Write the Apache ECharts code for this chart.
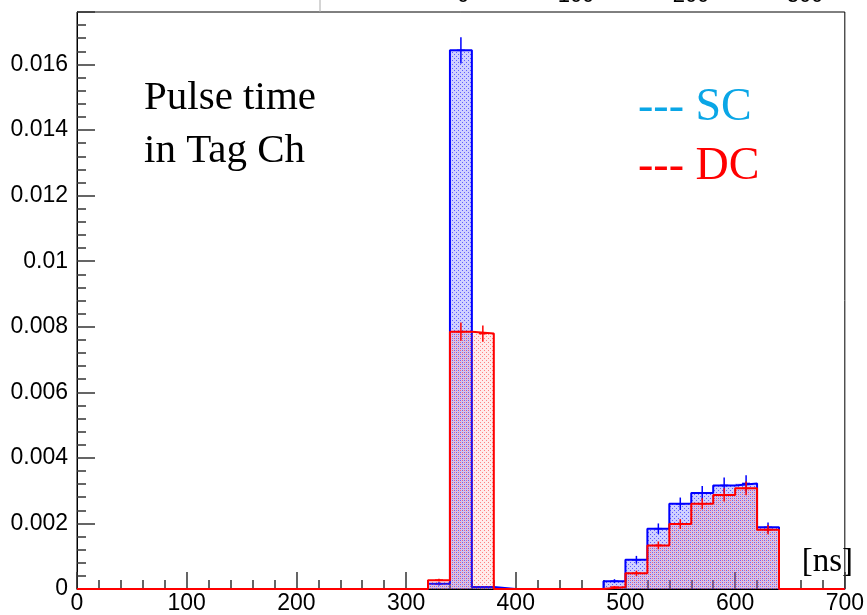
<!DOCTYPE html>
<html>
<head>
<meta charset="utf-8">
<script src="https://cdn.jsdelivr.net/npm/echarts@6/dist/echarts.min.js"></script>
<style>
html,body{margin:0;padding:0;background:#fff;}
#chart{width:867px;height:615px;}
</style>
</head>
<body>
<div id="chart"></div>
<script>
// bin lower edges [ns], bin width 20 ns
const binLow = [0,20,40,60,80,100,120,140,160,180,200,220,240,260,280,300,320,340,360,380,400,420,440,460,480,500,520,540,560,580,600,620,640,660,680];
const binWidth = 20;
// SC histogram (blue)
const scValues = [0,0,0,0,0,0,0,0,0,0,0,0,0,0,0,0,0.00016,0.01643,0.00006,0,0,0,0,0,0.00024,0.00089,0.00184,0.0026,0.00293,0.00316,0.00322,0.00188,0,0,0];
const scErrors = [0,0,0,0,0,0,0,0,0,0,0,0,0,0,0,0,0.00005,0.0004,0.00003,0,0,0,0,0,0.00006,0.00012,0.00016,0.00019,0.00021,0.00024,0.00025,0.00015,0,0,0];
// DC histogram (red)
const dcValues = [0,0,0,0,0,0,0,0,0,0,0,0,0,0,0,0,0.00027,0.00785,0.00779,0,0,0,0,0,0.00006,0.00048,0.00133,0.00198,0.0026,0.00287,0.00307,0.00181,0,0,0];
const dcErrors = [0,0,0,0,0,0,0,0,0,0,0,0,0,0,0,0,0.00004,0.00028,0.00025,0,0,0,0,0,0.00003,0.00008,0.00012,0.00015,0.00017,0.0002,0.00021,0.00014,0,0,0];
const xTicks = {min:0, max:700, interval:100};
const yTicks = {min:0, max:0.0176, interval:0.002};

function makePattern(bg, dot, size, dots){
  const c = document.createElement('canvas');
  c.width = size; c.height = size;
  const ctx = c.getContext('2d');
  ctx.fillStyle = bg; ctx.fillRect(0,0,size,size);
  ctx.fillStyle = dot;
  dots.forEach(d => ctx.fillRect(d[0], d[1], 1, 1));
  return {image: c, repeat: 'repeat'};
}
const bluePattern = makePattern('rgba(110,110,255,0.32)', 'rgba(0,0,255,0.55)', 4, [[0,0],[2,2]]);
const redPattern = makePattern('rgba(255,110,110,0.14)', 'rgba(255,0,0,0.45)', 4, [[2,0],[0,2]]);

function histData(vals){
  return binLow.map((x,i) => [x, x + binWidth, vals[i]]);
}
function stepData(vals){
  const d = binLow.map((x,i) => [x, vals[i]]);
  d.push([binLow[binLow.length-1] + binWidth, vals[vals.length-1]]);
  return d;
}
function errData(vals, errs){
  return binLow.map((x,i) => [x + binWidth/2, vals[i], errs[i]]);
}
function fillRender(pattern){
  return function(params, api){
    const v = api.value(2);
    if (!v) return null;
    const p0 = api.coord([api.value(0), v]);
    const p1 = api.coord([api.value(1), 0]);
    return {type:'rect', shape:{x:p0[0], y:p0[1], width:p1[0]-p0[0], height:p1[1]-p0[1]}, style:{fill: pattern}};
  };
}
function errRender(color){
  return function(params, api){
    const v = api.value(1), e = api.value(2);
    if (!v) return null;
    const x = api.value(0);
    const top = api.coord([x, v + e]);
    const bot = api.coord([x, Math.max(0, v - e)]);
    const mid = api.coord([x, v]);
    return {type:'group', children:[
      {type:'line', shape:{x1:top[0], y1:top[1], x2:bot[0], y2:bot[1]}, style:{stroke:color, lineWidth:1.5}},
      {type:'line', shape:{x1:mid[0]-4, y1:mid[1], x2:mid[0]+4, y2:mid[1]}, style:{stroke:color, lineWidth:1.5}}
    ]};
  };
}

const chart = echarts.init(document.getElementById('chart'), null, {renderer:'canvas'});
chart.setOption({
  animation:false,
  backgroundColor:'#fff',
  grid:{left:77, right:21, top:12, bottom:25, show:true, borderColor:'#000', borderWidth:1, backgroundColor:'transparent'},
  xAxis:{
    type:'value', min:xTicks.min, max:xTicks.max, interval:xTicks.interval,
    axisLine:{show:true, lineStyle:{color:'#000', width:1}},
    axisTick:{show:true, inside:true, length:17, lineStyle:{color:'#333', width:1.5}},
    minorTick:{show:true, splitNumber:5, length:9, lineStyle:{color:'#333', width:1.5}},
    splitLine:{show:false},
    axisLabel:{color:'#000', fontSize:23, fontFamily:'Liberation Sans, Arial, sans-serif', margin:3}
  },
  yAxis:{
    type:'value', min:yTicks.min, max:yTicks.max, interval:yTicks.interval,
    axisLine:{show:true, lineStyle:{color:'#000', width:1}},
    axisTick:{show:true, inside:true, length:18, lineStyle:{color:'#333', width:1.5}},
    minorTick:{show:true, splitNumber:5, length:9, lineStyle:{color:'#333', width:1.5}},
    splitLine:{show:false},
    axisLabel:{color:'#000', fontSize:23, fontFamily:'Liberation Sans, Arial, sans-serif', margin:9, showMaxLabel:false,
      formatter:function(v){
        const k = v / yTicks.interval;
        if (Math.abs(k - Math.round(k)) > 1e-6) return '';
        return String(+v.toFixed(4));
      }}
  },
  series:[
    {type:'custom', name:'SC fill', renderItem:fillRender(bluePattern), data:histData(scValues), z:1, encode:{x:[0,1], y:2}},
    {type:'line', name:'SC', step:'end', data:stepData(scValues), showSymbol:false, lineStyle:{color:'#0000ff', width:2}, z:2},
    {type:'custom', name:'SC err', renderItem:errRender('#0000ff'), data:errData(scValues, scErrors), z:3, encode:{x:0, y:1}},
    {type:'custom', name:'DC fill', renderItem:fillRender(redPattern), data:histData(dcValues), z:4, encode:{x:[0,1], y:2}},
    {type:'line', name:'DC', step:'end', data:stepData(dcValues), showSymbol:false, lineStyle:{color:'#ff0000', width:2}, z:5},
    {type:'custom', name:'DC err', renderItem:errRender('#ff0000'), data:errData(dcValues, dcErrors), z:6, encode:{x:0, y:1}}
  ],
  graphic:[
    {type:'text', left:144, top:78, style:{text:'Pulse time', font:'41px "Liberation Serif", "Times New Roman", serif', fill:'#000'}},
    {type:'text', left:144, top:131, style:{text:'in Tag Ch', font:'41px "Liberation Serif", "Times New Roman", serif', fill:'#000'}},
    {type:'text', left:638, top:85, style:{text:'--- SC', font:'46px "Liberation Serif", "Times New Roman", serif', fill:'#0aa6e6'}},
    {type:'text', left:638, top:144, style:{text:'--- DC', font:'46px "Liberation Serif", "Times New Roman", serif', fill:'#ff0000'}},
    {type:'text', right:14, top:546, style:{text:'[ns]', font:'33px "Liberation Serif", "Times New Roman", serif', fill:'#000'}},
    {type:'text', x:463, y:7, style:{text:'0', font:'22px "Liberation Sans", Arial, sans-serif', fill:'#000', align:'center', verticalAlign:'bottom'}},
    {type:'text', x:576, y:7, style:{text:'100', font:'22px "Liberation Sans", Arial, sans-serif', fill:'#000', align:'center', verticalAlign:'bottom'}},
    {type:'text', x:691, y:7, style:{text:'200', font:'22px "Liberation Sans", Arial, sans-serif', fill:'#000', align:'center', verticalAlign:'bottom'}},
    {type:'text', x:805, y:7, style:{text:'300', font:'22px "Liberation Sans", Arial, sans-serif', fill:'#000', align:'center', verticalAlign:'bottom'}},
    {type:'line', shape:{x1:320, y1:0, x2:320, y2:12}, style:{stroke:'#aaa', lineWidth:1}}
  ]
});
</script>
</body>
</html>
